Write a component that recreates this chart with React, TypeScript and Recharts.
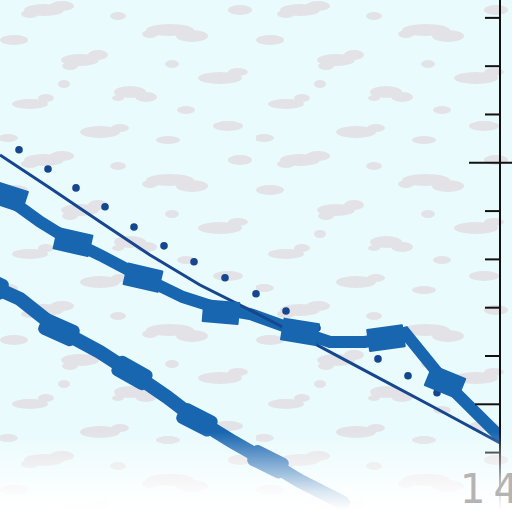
import { Line, LineChart, XAxis, YAxis } from "recharts";

// x in distance units (0..500 across the plot), y in depth units (one tick = 1)
const trendLine = [
  { x: 0, y: 2.84 },
  { x: 50, y: 3.52 },
  { x: 100, y: 4.22 },
  { x: 150, y: 4.91 },
  { x: 200, y: 5.53 },
  { x: 250, y: 6.05 },
  { x: 313, y: 6.73 },
  { x: 373, y: 7.39 },
  { x: 433, y: 8.05 },
  { x: 500, y: 8.8 },
  { x: 512, y: 8.92 },
];

const soundings = [
  { x: 19, y: 2.73 },
  { x: 48, y: 3.13 },
  { x: 76, y: 3.52 },
  { x: 105, y: 3.91 },
  { x: 134, y: 4.33 },
  { x: 164, y: 4.72 },
  { x: 194, y: 5.05 },
  { x: 225, y: 5.38 },
  { x: 256, y: 5.71 },
  { x: 286, y: 6.07 },
  { x: 317, y: 6.42 },
  { x: 378, y: 7.06 },
  { x: 408, y: 7.41 },
  { x: 437, y: 7.76 },
];

const upperTrack = [
  { x: 0, y: 3.62 },
  { x: 40, y: 4.22 },
  { x: 73, y: 4.64 },
  { x: 100, y: 4.91 },
  { x: 143, y: 5.38 },
  { x: 183, y: 5.78 },
  { x: 221, y: 6.03 },
  { x: 250, y: 6.13 },
  { x: 300, y: 6.5 },
  { x: 330, y: 6.71 },
  { x: 365, y: 6.71 },
  { x: 386, y: 6.63 },
  { x: 405, y: 6.52 },
  { x: 445, y: 7.54 },
  { x: 500, y: 8.67 },
  { x: 512, y: 8.88 },
];

const upperStations = [
  { x: 8, y: 3.7 },
  { x: 73, y: 4.64 },
  { x: 143, y: 5.38 },
  { x: 221, y: 6.09 },
  { x: 300, y: 6.5 },
  { x: 386, y: 6.63 },
  { x: 445, y: 7.54 },
];

const lowerTrack = [
  { x: -20, y: 5.4 },
  { x: 0, y: 5.63 },
  { x: 20, y: 5.82 },
  { x: 59, y: 6.46 },
  { x: 100, y: 6.92 },
  { x: 132, y: 7.35 },
  { x: 167, y: 7.85 },
  { x: 197, y: 8.32 },
  { x: 233, y: 8.78 },
  { x: 268, y: 9.19 },
  { x: 300, y: 9.59 },
  { x: 343, y: 10.04 },
];

const lowerStations = [
  { x: -12, y: 5.5 },
  { x: 59, y: 6.46 },
  { x: 132, y: 7.35 },
  { x: 197, y: 8.32 },
  { x: 268, y: 9.19 },
];

const depthTicks = [0, 1, 2, 3, 4, 5, 6, 7, 8, 9];
const MAJOR_TICK = 3;

const Y_MIN = -0.37;
const Y_MAX = 10.23;
const PX_PER_Y = 512 / (Y_MAX - Y_MIN);

const BAND = "#1866b0";
const NAVY = "#16478e";

function angleAt(track: { x: number; y: number }[], x: number) {
  let i = track.findIndex((p) => p.x > x);
  if (i <= 0) i = 1;
  const a = track[i - 1];
  const b = track[i];
  return (Math.atan2((b.y - a.y) * PX_PER_Y, b.x - a.x) * 180) / Math.PI;
}

function blockShape(
  track: { x: number; y: number }[],
  w: number,
  h: number,
  rx: number,
  tilt: number
) {
  return (props: any) => {
    const { cx, cy, index, payload } = props;
    if (cx == null || cy == null) return <g key={index} />;
    const deg = angleAt(track, payload.x) * tilt;
    return (
      <rect
        key={index}
        x={cx - w / 2}
        y={cy - h / 2}
        width={w}
        height={h}
        rx={rx}
        fill={BAND}
        transform={`rotate(${deg} ${cx} ${cy})`}
      />
    );
  };
}

const DepthTick = (props: any) => {
  const { x, y, payload } = props;
  const major = payload.value === MAJOR_TICK;
  const x1 = major ? x - 31 : payload.value === 8 ? x - 25 : x - 15;
  const x2 = major ? x + 12 : x;
  return <line x1={x1} x2={x2} y1={y} y2={y} stroke="#111" strokeWidth={2} />;
};

const texture = `<svg xmlns='http://www.w3.org/2000/svg' width='256' height='150'><g fill='#e3e3e7'>
<ellipse cx='44' cy='10' rx='20' ry='6'/><ellipse cx='62' cy='6' rx='12' ry='5'/><ellipse cx='30' cy='14' rx='9' ry='4'/>
<ellipse cx='170' cy='30' rx='24' ry='6'/><ellipse cx='192' cy='36' rx='16' ry='6'/><ellipse cx='150' cy='34' rx='8' ry='4'/>
<ellipse cx='14' cy='40' rx='14' ry='5'/><ellipse cx='118' cy='16' rx='8' ry='4'/><ellipse cx='240' cy='10' rx='12' ry='5'/>
<ellipse cx='80' cy='60' rx='19' ry='6'/><ellipse cx='98' cy='55' rx='10' ry='5'/><ellipse cx='70' cy='66' rx='8' ry='4'/>
<ellipse cx='172' cy='64' rx='7' ry='4'/><ellipse cx='220' cy='78' rx='22' ry='6'/><ellipse cx='238' cy='72' rx='10' ry='4'/>
<ellipse cx='130' cy='92' rx='16' ry='6'/><ellipse cx='146' cy='97' rx='11' ry='5'/><ellipse cx='118' cy='98' rx='6' ry='3'/>
<ellipse cx='30' cy='104' rx='18' ry='5'/><ellipse cx='46' cy='98' rx='8' ry='4'/><ellipse cx='228' cy='126' rx='15' ry='5'/>
<ellipse cx='64' cy='84' rx='6' ry='4'/><ellipse cx='186' cy='110' rx='9' ry='4'/><ellipse cx='100' cy='132' rx='20' ry='6'/>
<ellipse cx='120' cy='128' rx='9' ry='4'/><ellipse cx='168' cy='140' rx='12' ry='4'/><ellipse cx='8' cy='138' rx='10' ry='4'/>
</g></svg>`;

export default function App() {
  return (
    <div
      style={{
        position: "absolute",
        top: 0,
        left: 0,
        width: 512,
        height: 512,
        overflow: "hidden",
        backgroundColor: "#e9fbfd",
        backgroundImage: `url("data:image/svg+xml,${encodeURIComponent(texture)}")`,
      }}
    >
      <LineChart width={512} height={512} margin={{ top: 0, right: 0, bottom: 0, left: 0 }}>
        <XAxis
          type="number"
          dataKey="x"
          domain={[0, 500]}
          allowDataOverflow
          hide
        />
        <YAxis
          type="number"
          dataKey="y"
          orientation="right"
          width={12}
          reversed
          domain={[Y_MIN, Y_MAX]}
          ticks={depthTicks}
          interval={0}
          tickSize={0}
          tickMargin={0}
          tickLine={false}
          axisLine={{ stroke: "#111", strokeWidth: 2 }}
          tick={<DepthTick />}
        />
        <Line
          data={soundings}
          dataKey="y"
          stroke="none"
          isAnimationActive={false}
          activeDot={false}
          dot={{ r: 3.8, fill: NAVY, stroke: "none" }}
        />
        <Line
          data={lowerTrack}
          dataKey="y"
          stroke={BAND}
          strokeWidth={14}
          strokeLinecap="round"
          isAnimationActive={false}
          activeDot={false}
          dot={false}
        />
        <Line
          data={lowerStations}
          dataKey="y"
          stroke="none"
          isAnimationActive={false}
          activeDot={false}
          dot={blockShape(lowerTrack, 40, 22, 6, 0.85)}
        />
        <Line
          data={upperTrack}
          dataKey="y"
          stroke={BAND}
          strokeWidth={12}
          isAnimationActive={false}
          activeDot={false}
          dot={false}
        />
        <Line
          data={upperStations}
          dataKey="y"
          stroke="none"
          isAnimationActive={false}
          activeDot={false}
          dot={blockShape(upperTrack, 37, 23, 1, 0.5)}
        />
        <Line
          data={trendLine}
          dataKey="y"
          stroke={NAVY}
          strokeWidth={3}
          isAnimationActive={false}
          activeDot={false}
          dot={false}
        />
      </LineChart>
      <div
        style={{
          position: "absolute",
          inset: 0,
          pointerEvents: "none",
          background:
            "linear-gradient(to bottom, rgba(255,255,255,0) 432px, rgba(255,255,255,0.85) 492px, #fff 510px)",
        }}
      />
      <div
        style={{
          position: "absolute",
          left: 460,
          top: 466,
          fontFamily: "DejaVu Sans",
          fontSize: 40,
          color: "#b4b4b4",
          letterSpacing: 8,
        }}
      >
        14
      </div>
    </div>
  );
}
